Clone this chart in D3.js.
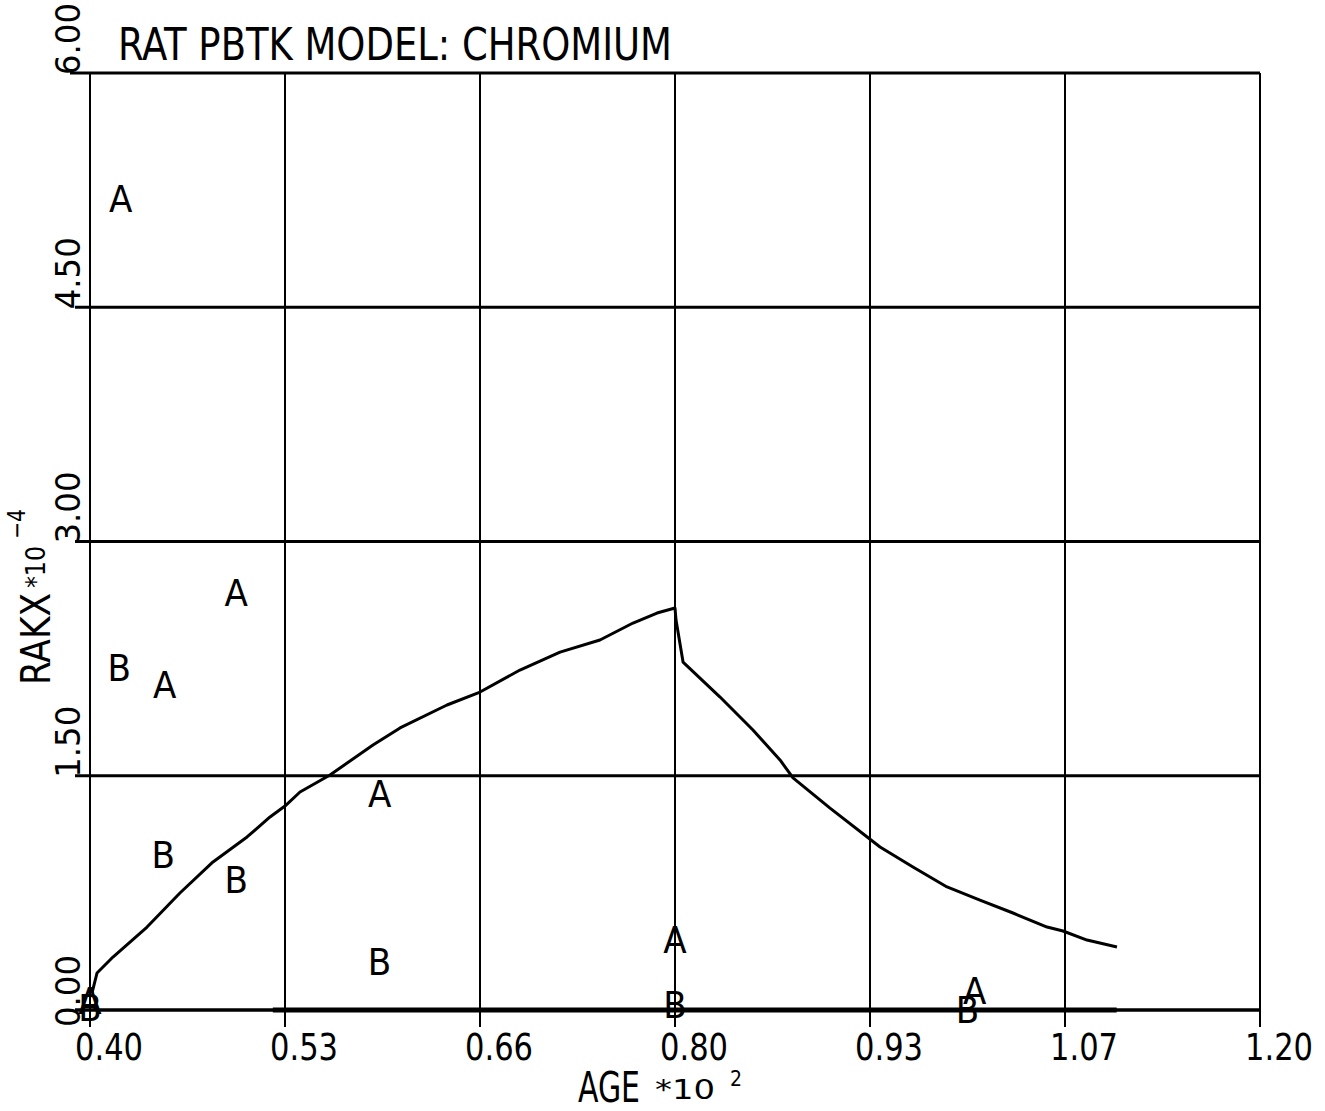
<!DOCTYPE html>
<html>
<head>
<meta charset="utf-8">
<script src="https://cdn.jsdelivr.net/npm/d3@7"></script>
<style>
  html, body { margin: 0; padding: 0; background: #fff; }
  svg text { font-family: "Liberation Sans Narrow", "DejaVu Sans Condensed", "Liberation Sans", sans-serif; fill: #000; }
</style>
</head>
<body>
<svg id="chart" width="1325" height="1111"></svg>
<script>
// Model output: kidney excretion rate vs. age (age in units of 10^2, rate in 10^-4)
const modelAge = [0.4014, 0.4048, 0.4157, 0.4390, 0.4615, 0.4841, 0.5074, 0.5231, 0.5333, 0.5436,
                  0.5641, 0.5935, 0.6120, 0.6441, 0.6667, 0.6940, 0.7214, 0.7487, 0.7713, 0.7877,
                  0.8000, 0.8007, 0.8055, 0.8308, 0.8533, 0.8718, 0.8807, 0.9060, 0.9402, 0.9627,
                  0.9860, 1.0085, 1.0311, 1.0544, 1.0653, 1.0817, 1.1022];
const modelRate = [0.109, 0.237, 0.339, 0.531, 0.749, 0.948, 1.108, 1.236, 1.306, 1.396,
                   1.505, 1.697, 1.806, 1.953, 2.036, 2.177, 2.292, 2.369, 2.478, 2.542,
                   2.574, 2.497, 2.228, 2.004, 1.793, 1.601, 1.486, 1.293, 1.044, 0.916,
                   0.788, 0.704, 0.621, 0.531, 0.506, 0.448, 0.403];

// Second model trace lying on the baseline
const baseAge  = [0.525, 0.600, 0.700, 0.800, 0.900, 1.000, 1.102];
const baseRate = [0.0, 0.0, 0.0, 0.0, 0.0, 0.0, 0.0];

// Observed data, group A
const groupAAge  = [0.400, 0.421, 0.451, 0.500, 0.598, 0.800, 1.005];
const groupARate = [0.06, 5.19, 2.08, 2.67, 1.38, 0.45, 0.12];

// Observed data, group B
const groupBAge  = [0.400, 0.420, 0.450, 0.500, 0.598, 0.800, 1.000];
const groupBRate = [0.01, 2.19, 0.99, 0.83, 0.31, 0.03, 0.00];

// Axis ticks and labels
const xTickValues = [0.40, 0.40 + 0.8 / 6, 0.40 + 1.6 / 6, 0.40 + 2.4 / 6, 0.40 + 3.2 / 6, 0.40 + 4.0 / 6, 1.20];
const xTickLabels = ["0.40", "0.53", "0.66", "0.80", "0.93", "1.07", "1.20"];
const yTickValues = [0, 1.5, 3.0, 4.5, 6.0];
const yTickLabels = ["0.00", "1.50", "3.00", "4.50", "6.00"];

const titleText = "RAT PBTK MODEL: CHROMIUM";

const svg = d3.select("#chart");
svg.append("rect").attr("width", 1325).attr("height", 1111).attr("fill", "#fff");

const plotLeft = 90, plotRight = 1260, plotTop = 73, plotBottom = 1010;
const x = d3.scaleLinear().domain([0.40, 1.20]).range([plotLeft, plotRight]);
const y = d3.scaleLinear().domain([0, 6]).range([plotBottom, plotTop]);

const grid = svg.append("g");

// vertical grid lines, poking below the baseline as ticks
grid.selectAll("line.v").data(xTickValues).join("line")
  .attr("class", "v")
  .attr("x1", d => x(d)).attr("x2", d => x(d))
  .attr("y1", plotTop).attr("y2", plotBottom + 17)
  .attr("stroke", "#000").attr("stroke-width", 2);

// horizontal grid lines, poking left of the axis as ticks
grid.selectAll("line.h").data(yTickValues).join("line")
  .attr("class", "h")
  .attr("x1", d => plotLeft - (d === 6 ? 20 : 15)).attr("x2", plotRight)
  .attr("y1", d => y(d)).attr("y2", d => y(d))
  .attr("stroke", "#000").attr("stroke-width", d => d === 0 ? 3.5 : 3);

// x tick labels
svg.selectAll("text.xt").data(xTickValues).join("text")
  .attr("class", "xt")
  .attr("x", d => x(d) - 15).attr("y", 1060)
  .attr("font-size", 37)
  .attr("textLength", 68).attr("lengthAdjust", "spacingAndGlyphs")
  .text((d, i) => xTickLabels[i]);

// y tick labels, rotated, reading upwards from the tick
svg.selectAll("text.yt").data(yTickValues).join("text")
  .attr("class", "yt")
  .attr("transform", d => `translate(80,${y(d) + (d === 0 ? 17 : 2)}) rotate(-90)`)
  .attr("font-size", 34)
  .attr("textLength", 72).attr("lengthAdjust", "spacingAndGlyphs")
  .text((d, i) => yTickLabels[i]);

// title
svg.append("text")
  .attr("x", 118).attr("y", 60)
  .attr("font-size", 44)
  .attr("textLength", 554).attr("lengthAdjust", "spacingAndGlyphs")
  .text(titleText);

// x axis title
svg.append("text").attr("x", 578).attr("y", 1102).attr("font-size", 43)
  .attr("textLength", 62).attr("lengthAdjust", "spacingAndGlyphs").text("AGE");
svg.append("text").attr("x", 655).attr("y", 1099).attr("font-size", 26)
  .attr("textLength", 60).attr("lengthAdjust", "spacingAndGlyphs").text("*10");
svg.append("text").attr("x", 730).attr("y", 1086).attr("font-size", 21).text("2");

// y axis title
const yTitle = svg.append("g").attr("transform", "translate(50,685) rotate(-90)");
yTitle.append("text").attr("x", 0).attr("y", 0).attr("font-size", 41)
  .attr("textLength", 92).attr("lengthAdjust", "spacingAndGlyphs").text("RAKX");
yTitle.append("text").attr("x", 97).attr("y", -5).attr("font-size", 26)
  .attr("textLength", 42).attr("lengthAdjust", "spacingAndGlyphs").text("*10");
yTitle.append("text").attr("x", 146).attr("y", -25).attr("font-size", 24)
  .attr("textLength", 30).attr("lengthAdjust", "spacingAndGlyphs").text("\u22124");

// model curves
const line = d3.line().x(d => x(d[0])).y(d => y(d[1]));
svg.append("path")
  .datum(d3.zip(baseAge, baseRate))
  .attr("d", line)
  .attr("fill", "none").attr("stroke", "#000").attr("stroke-width", 5);
svg.append("path")
  .datum(d3.zip(modelAge, modelRate))
  .attr("d", line)
  .attr("fill", "none").attr("stroke", "#000").attr("stroke-width", 3)
  .attr("stroke-linejoin", "round");

// observed points drawn as letter symbols
function drawMarkers(ages, rates, symbol) {
  svg.append("g").selectAll("text").data(d3.zip(ages, rates)).join("text")
    .attr("x", d => x(d[0])).attr("y", d => y(d[1]))
    .attr("text-anchor", "middle")
    .attr("dominant-baseline", "central")
    .attr("font-size", 38)
    .text(symbol);
}
drawMarkers(groupBAge, groupBRate, "B");
drawMarkers(groupAAge, groupARate, "A");
</script>
</body>
</html>
